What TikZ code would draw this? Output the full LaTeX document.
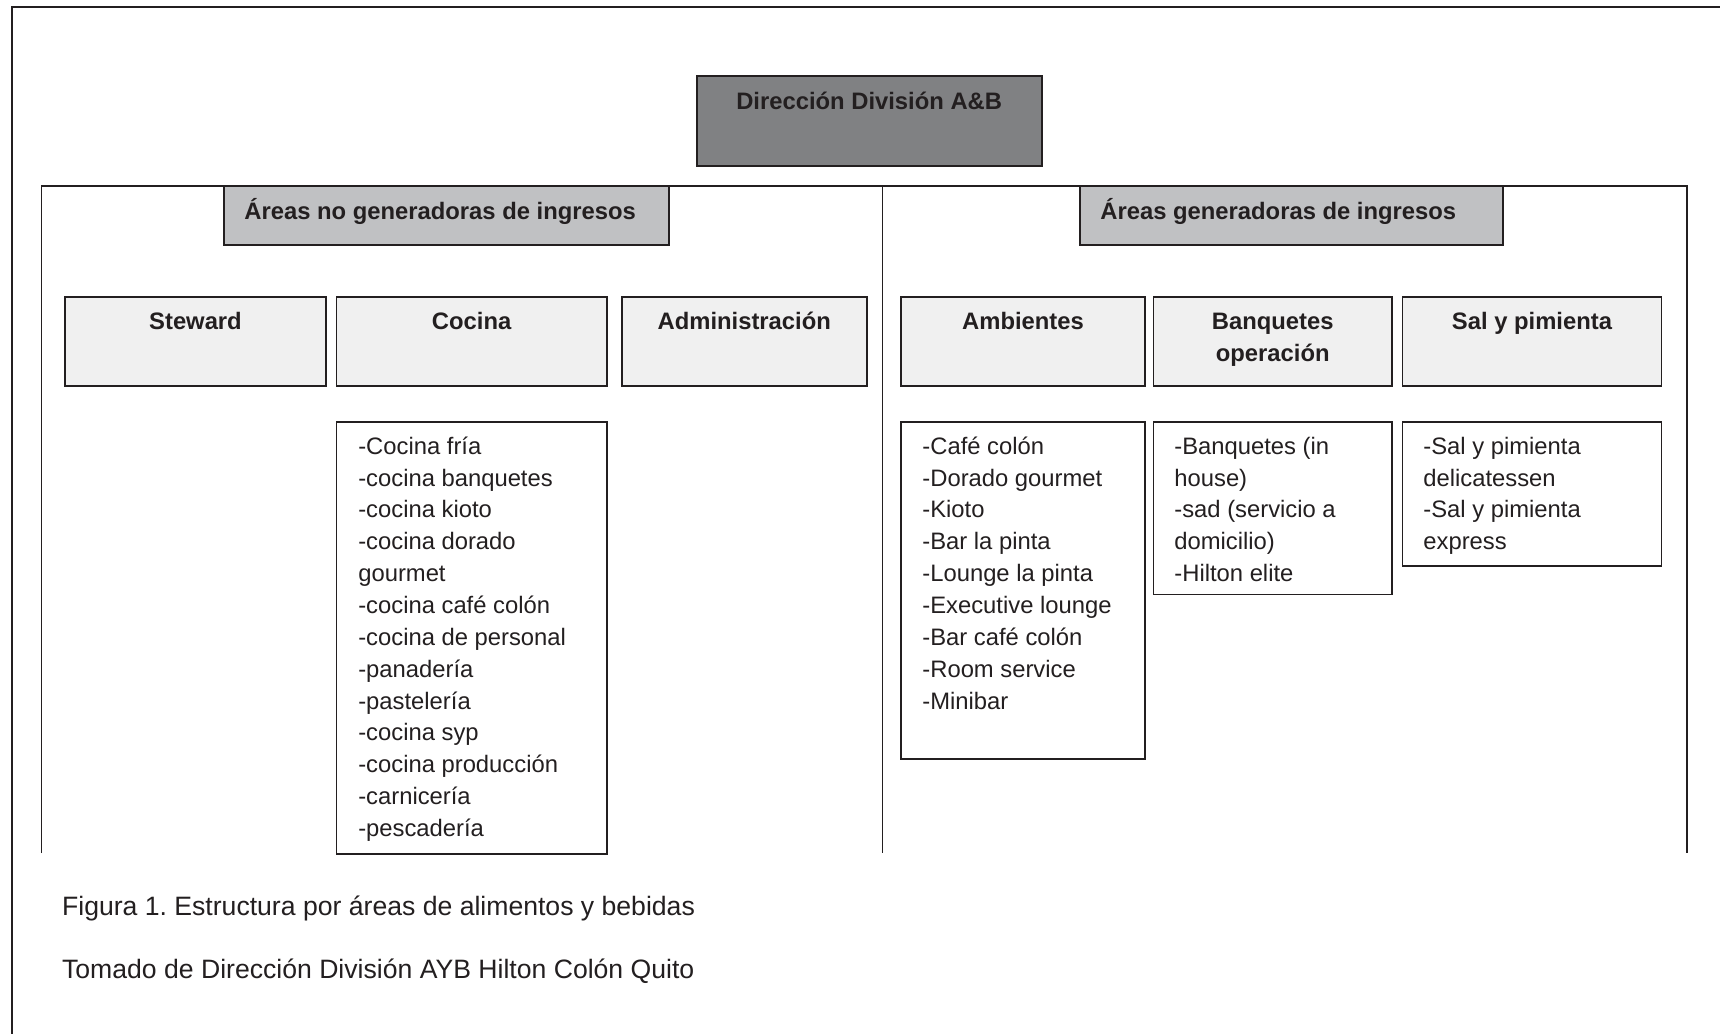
\documentclass[tikz,border=0pt]{standalone}
\usepackage{fontspec}
\setmainfont{Liberation Sans}
\usetikzlibrary{fit,calc}
\definecolor{ink}{HTML}{231F20}
\definecolor{darkfill}{HTML}{808183}
\definecolor{headfill}{HTML}{C0C1C3}
\definecolor{unitfill}{HTML}{F0F0F0}
\frenchspacing
\begin{document}
\begin{tikzpicture}[x=0.5pt,y=-0.5pt,
  boxbase/.style={draw=ink, inner sep=0pt, outer sep=0pt, line width=0.85pt},
  topbox/.style={boxbase, fill=darkfill, line width=1pt},
  headbox/.style={boxbase, fill=headfill},
  unitbox/.style={boxbase, fill=unitfill},
  listbox/.style={boxbase, fill=white},
  boldtxt/.style={font=\fontsize{11.9}{15.9}\selectfont\bfseries, text=ink, inner sep=0pt, anchor=base},
  listtxt/.style={font=\fontsize{11.9}{15.9}\selectfont, text=ink, inner sep=0pt, anchor=base west},
  captxt/.style={font=\fontsize{13.3}{16}\selectfont, text=ink, inner sep=0pt, anchor=base west},
  frameline/.style={draw=ink, line width=1.1pt},
  arealine/.style={draw=ink, line width=0.8pt}
]
\useasboundingbox (0,0) rectangle (1720,1034);
\fill[white] (0,0) rectangle (1720,1034);

% outer frame (open at right and bottom)
\coordinate (frameBL) at (11.7,1034);
\coordinate (frameTL) at (11.7,7.3);
\coordinate (frameTR) at (1720,7.3);
\draw[frameline] (frameBL) -- (frameTL) -- (frameTR);

% area containers
\coordinate (aLB) at (41.5,853);
\coordinate (aLT) at (41.5,186);
\coordinate (aMT) at (882.3,186);
\coordinate (aMB) at (882.3,853);
\coordinate (aRT) at (1686.7,186);
\coordinate (aRB) at (1686.7,853);
\draw[arealine] (aLB) -- (aLT) -- (aRT) -- (aRB);
\draw[arealine] (aMT) -- (aMB);

% top box
\node[topbox, fit={(696.7,76) (1041.7,166)}] (dir) {};
\node[boldtxt] (dirtxt) at ($(dir.north)+(0,33.5)$) {Dirección División A\&B};

% headers
\node[headbox, fit={(224,186) (669.3,245)}] (nogen) {};
\node[boldtxt, anchor=base west] (nogentxt) at ($(nogen.north west)+(20,33)$) {Áreas no generadoras de ingresos};
\node[headbox, fit={(1080,186) (1503,245)}] (gen) {};
\node[boldtxt, anchor=base west] (gentxt) at ($(gen.north west)+(20,33)$) {Áreas generadoras de ingresos};

% units
\node[unitbox, fit={(65,296.7) (326,386)}] (steward) {};
\node[boldtxt] (stewardtxt) at ($(steward.north)+(0,32.6)$) {Steward};
\node[unitbox, fit={(336.4,296.7) (606.8,386)}] (cocina) {};
\node[boldtxt] (cocinatxt) at ($(cocina.north)+(0,32.6)$) {Cocina};
\node[unitbox, fit={(621.7,296.7) (866.8,386)}] (admin) {};
\node[boldtxt] (admintxt) at ($(admin.north)+(0,32.6)$) {Administración};
\node[unitbox, fit={(901,296.7) (1145,386)}] (amb) {};
\node[boldtxt] (ambtxt) at ($(amb.north)+(0,32.6)$) {Ambientes};
\node[unitbox, fit={(1153.5,296.7) (1392,386)}] (banq) {};
\node[boldtxt] (banqtxta) at ($(banq.north)+(0,32.6)$) {Banquetes};
\node[boldtxt] (banqtxtb) at ($(banq.north)+(0,64.4)$) {operación};
\node[unitbox, fit={(1402.5,296.7) (1661.5,386)}] (sal) {};
\node[boldtxt] (saltxt) at ($(sal.north)+(0,32.6)$) {Sal y pimienta};

% lists
\node[listbox, fit={(336.4,421.7) (606.8,854)}] (coclist) {};
\foreach \itm [count=\i] in {-Cocina fría, -cocina banquetes, -cocina kioto, -cocina dorado, gourmet, -cocina café colón, -cocina de personal, -panadería, -pastelería, -cocina syp, -cocina producción, -carnicería, -pescadería}
  \node[listtxt] (cocitem\i) at ($(coclist.north west)+(21.5,{32.6+(\i-1)*31.84})$) {\itm};

\node[listbox, fit={(901,421.7) (1145,759)}] (amblist) {};
\foreach \itm [count=\i] in {-Café colón, -Dorado gourmet, -Kioto, -Bar la pinta, -Lounge la pinta, -Executive lounge, -Bar café colón, -Room service, -Minibar}
  \node[listtxt] (ambitem\i) at ($(amblist.north west)+(21,{32.6+(\i-1)*31.84})$) {\itm};

\node[listbox, fit={(1153.5,421.7) (1392,594.5)}] (banqlist) {};
\foreach \itm [count=\i] in {-Banquetes (in, house), -sad (servicio a, domicilio), -Hilton elite}
  \node[listtxt] (banqitem\i) at ($(banqlist.north west)+(20.5,{32.6+(\i-1)*31.84})$) {\itm};

\node[listbox, fit={(1402.5,421.7) (1661.5,566)}] (sallist) {};
\foreach \itm [count=\i] in {-Sal y pimienta, delicatessen, -Sal y pimienta, express}
  \node[listtxt] (salitem\i) at ($(sallist.north west)+(20.5,{32.6+(\i-1)*31.84})$) {\itm};

% caption
\node[captxt] (cap1) at (61.7,915.7) {Figura 1. Estructura por áreas de alimentos y bebidas};
\node[captxt] (cap2) at (61.7,978.5) {Tomado de Dirección División AYB Hilton Colón Quito};
\end{tikzpicture}
\end{document}
